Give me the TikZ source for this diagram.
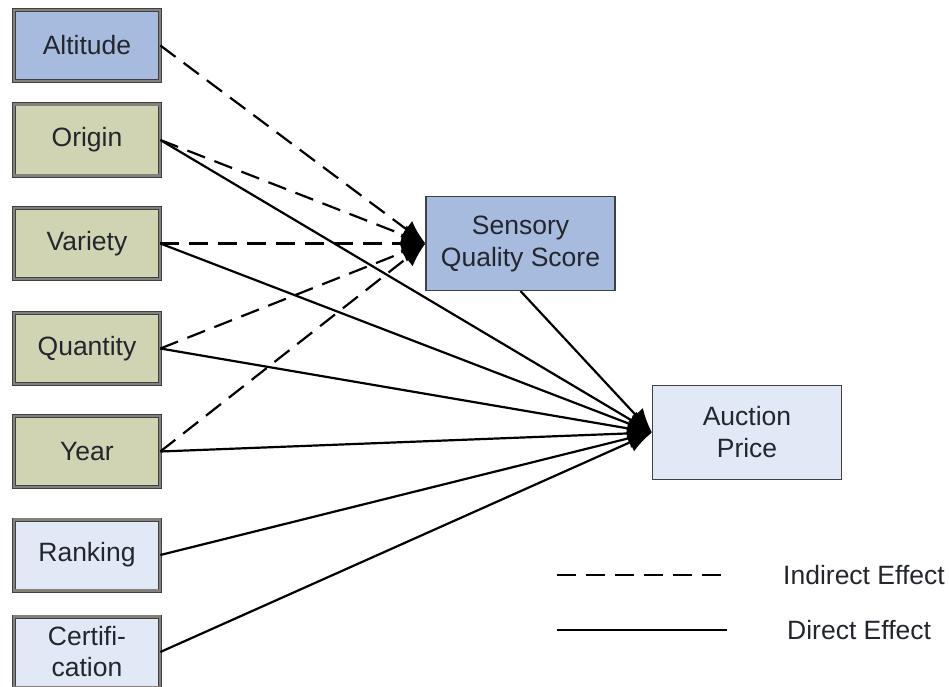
\documentclass[tikz,border=0pt]{standalone}
\usepackage{fontspec}
\setmainfont{Liberation Sans}
\usetikzlibrary{arrows.meta}
\definecolor{altblue}{RGB}{166,187,222}
\definecolor{olivefill}{RGB}{208,212,178}
\definecolor{lightblue}{RGB}{226,233,246}
\definecolor{framegray}{RGB}{130,130,122}
\definecolor{txt}{RGB}{35,38,45}
\tikzset{
  leftbox/.style={draw=black!75, double=framegray, double distance=2.6pt, line width=0.7pt,
    minimum width=146pt, minimum height=71pt, inner sep=0pt, align=center,
    font=\fontsize{26.5}{31}\selectfont, text=txt},
  midbox/.style={draw=black!75, line width=1.1pt, minimum width=189pt, minimum height=94pt,
    inner sep=0pt, align=center, font=\fontsize{26.5}{32}\selectfont, text=txt},
  ind/.style={line width=2.2pt, dash pattern=on 19pt off 10pt, -{Latex[length=24pt,width=20pt]}},
  dir/.style={line width=2.2pt, -{Latex[length=24pt,width=20pt]}},
  legtext/.style={font=\fontsize{26.5}{31}\selectfont, text=txt, anchor=west, inner sep=0pt}
}
\begin{document}
\begin{tikzpicture}[x=1pt,y=-1pt]
\useasboundingbox (0,0) rectangle (949,687);
\node[leftbox, fill=altblue] (alt) at (87,45.5) {Altitude};
\node[leftbox, fill=olivefill] (ori) at (87,140) {Origin};
\node[leftbox, fill=olivefill] (var) at (87,243.5) {Variety};
\node[leftbox, fill=olivefill] (qua) at (87,348.5) {Quantity};
\node[leftbox, fill=olivefill] (yea) at (87,451.5) {Year};
\node[leftbox, fill=lightblue] (ran) at (87,555) {Ranking};
\node[leftbox, fill=lightblue] (cer) at (87,652) {Certifi-\\cation};
\node[midbox, fill=altblue] (sen) at (520.5,243.5) {Sensory\\Quality Score};
\node[midbox, fill=lightblue] (auc) at (747,432.5) {Auction\\Price};
% indirect
\draw[ind] (alt.east) -- (sen.west);
\draw[ind] (ori.east) -- (sen.west);
\draw[ind] (var.east) -- (sen.west);
\draw[ind] (qua.east) -- (sen.west);
\draw[ind] (yea.east) -- (sen.west);
% direct
\draw[dir] (ori.east) -- (auc.west);
\draw[dir] (var.east) -- (auc.west);
\draw[dir] (qua.east) -- (auc.west);
\draw[dir] (yea.east) -- (auc.west);
\draw[dir] (ran.east) -- (auc.west);
\draw[dir] (cer.east) -- (auc.west);
\draw[dir] (sen.south) -- (auc.west);
% legend
\coordinate (l1a) at (557,575); \coordinate (l1b) at (727,575);
\coordinate (l2a) at (557,630); \coordinate (l2b) at (727,630);
\draw[line width=2.2pt, dash pattern=on 19pt off 10pt] (l1a) -- (l1b);
\draw[line width=2.2pt] (l2a) -- (l2b);
\node[legtext] (lt1) at (783,575) {Indirect Effect};
\node[legtext] (lt2) at (787,630) {Direct Effect};
\end{tikzpicture}
\end{document}
